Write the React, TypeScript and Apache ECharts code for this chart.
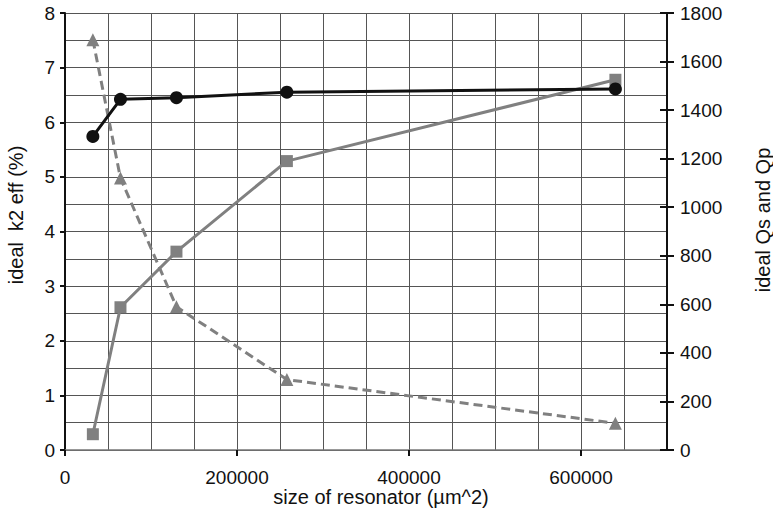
import React, { useEffect, useRef } from "react";
import * as echarts from "echarts";

// Resonator area (µm^2)
const sizes = [32400, 64500, 129600, 258000, 640000];
// Ideal effective coupling k2 eff (%) — left axis
const k2eff = [5.74, 6.42, 6.45, 6.55, 6.61];
// Ideal Qs — right axis
const qs = [65, 588, 817, 1190, 1525];
// Ideal Qp — right axis
const qp = [1690, 1120, 590, 290, 110];

const xTitle = "size of resonator (µm^2)";
const leftTitle = "ideal  k2 eff (%)";
const rightTitle = "ideal Qs and Qp";

const FONT = "'Liberation Sans', Arial, Helvetica, sans-serif";
const INK = "#111";

export default function App() {
  const ref = useRef<HTMLDivElement>(null);

  useEffect(() => {
    if (!ref.current) return;
    const chart = echarts.init(ref.current, undefined, { renderer: "svg" });
    const toPairs = (ys: number[]) => sizes.map((x, i) => [x, ys[i]]);
    const gridLine = { show: true, lineStyle: { color: "#555", width: 1 } };
    const plain = (v: number) => String(v);
    const titleStyle = { fill: INK, fontSize: 20, fontFamily: FONT, align: "center", verticalAlign: "middle" };

    chart.setOption({
      animation: false,
      backgroundColor: "#fff",
      textStyle: { fontFamily: FONT },
      grid: { left: 65, right: 106, top: 13, bottom: 72 },
      xAxis: {
        type: "value",
        min: 0,
        max: 700000,
        interval: 200000,
        axisLine: { show: true, lineStyle: { color: "#777", width: 1.5 } },
        axisTick: { show: true, length: 6, lineStyle: { color: INK, width: 2 } },
        axisLabel: { fontSize: 19, color: INK, margin: 18, fontFamily: FONT, formatter: plain, showMaxLabel: false },
        splitLine: gridLine,
        minorTick: { show: false, splitNumber: 4 },
        minorSplitLine: { show: true, lineStyle: { color: "#555", width: 1 } },
      },
      yAxis: [
        {
          type: "value",
          min: 0,
          max: 8,
          interval: 1,
          axisLine: { show: true, lineStyle: { color: INK, width: 2 } },
          axisTick: { show: true, length: 5, lineStyle: { color: INK, width: 2 } },
          axisLabel: { fontSize: 19, color: INK, margin: 10, fontFamily: FONT },
          splitLine: gridLine,
          minorTick: { show: false, splitNumber: 2 },
          minorSplitLine: { show: true, lineStyle: { color: "#555", width: 1 } },
        },
        {
          type: "value",
          min: 0,
          max: 1800,
          interval: 200,
          position: "right",
          axisLine: { show: true, lineStyle: { color: INK, width: 2 } },
          axisTick: { show: true, length: 7, lineStyle: { color: INK, width: 2 } },
          axisLabel: { fontSize: 19, color: INK, margin: 13, fontFamily: FONT, formatter: plain },
          splitLine: { show: false },
        },
        {
          // inner half of the right-axis ticks, so they cross the axis line
          type: "value",
          min: 0,
          max: 1800,
          interval: 200,
          position: "right",
          axisLine: { show: false },
          axisTick: { show: true, inside: true, length: 7, lineStyle: { color: INK, width: 2 } },
          axisLabel: { show: false },
          splitLine: { show: false },
        },
      ],
      graphic: [
        { type: "text", x: 381, y: 497, style: { ...titleStyle, text: xTitle } },
        { type: "text", x: 16, y: 215, rotation: Math.PI / 2, style: { ...titleStyle, text: leftTitle } },
        { type: "text", x: 763, y: 220, rotation: Math.PI / 2, style: { ...titleStyle, text: rightTitle } },
      ],
      series: [
        {
          name: "Qp",
          type: "line",
          yAxisIndex: 1,
          data: toPairs(qp),
          symbol: "triangle",
          symbolSize: 13,
          lineStyle: { color: "#808080", width: 3, type: [9, 5] },
          itemStyle: { color: "#808080" },
          z: 3,
        },
        {
          name: "Qs",
          type: "line",
          yAxisIndex: 1,
          data: toPairs(qs),
          symbol: "rect",
          symbolSize: 12,
          lineStyle: { color: "#808080", width: 3 },
          itemStyle: { color: "#808080" },
          z: 4,
        },
        {
          name: "k2 eff",
          type: "line",
          yAxisIndex: 0,
          data: toPairs(k2eff),
          symbol: "circle",
          symbolSize: 13,
          lineStyle: { color: INK, width: 3 },
          itemStyle: { color: INK },
          z: 5,
        },
      ],
    });

    return () => chart.dispose();
  }, []);

  return (
    <div
      ref={ref}
      style={{ position: "fixed", left: 0, top: 0, width: 773, height: 522 }}
    />
  );
}
